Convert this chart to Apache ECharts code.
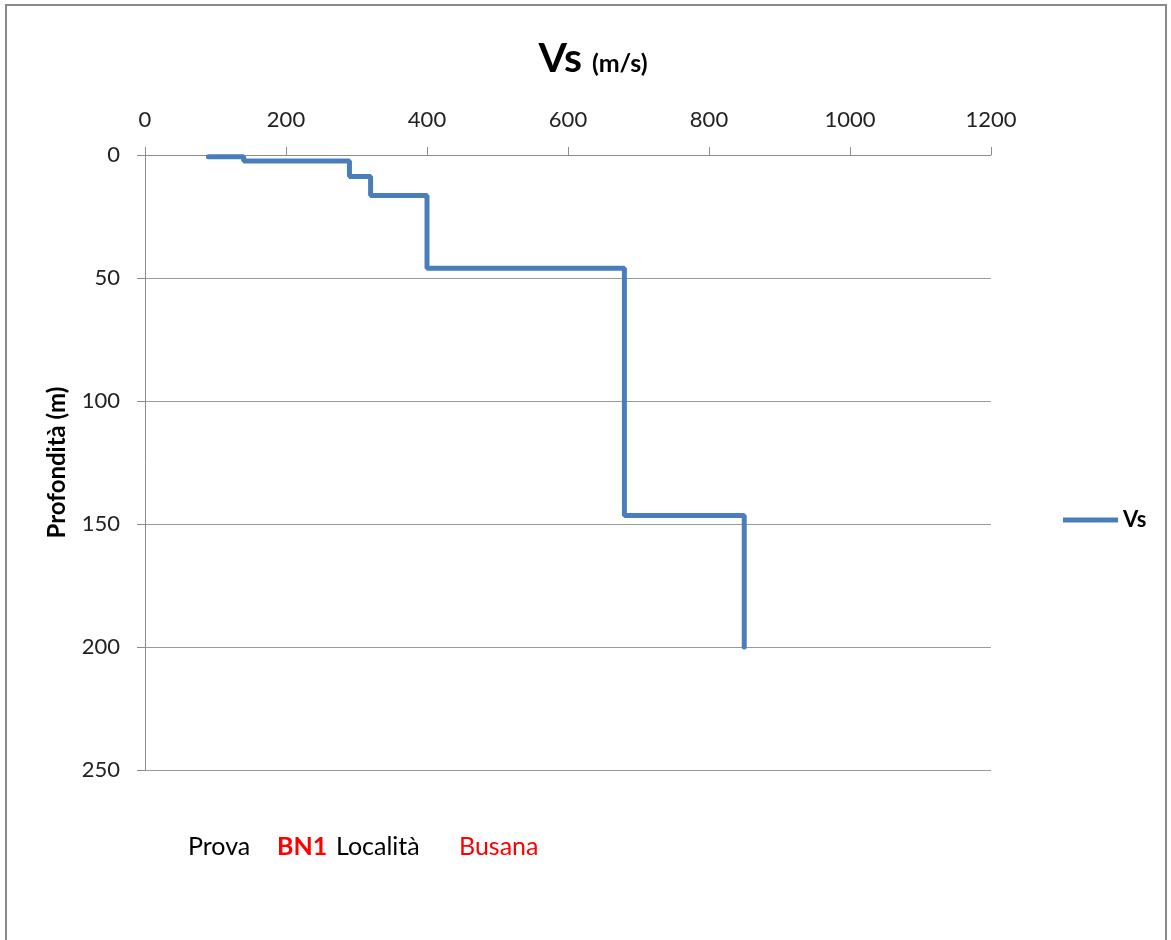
<!DOCTYPE html>
<html>
<head>
<meta charset="utf-8">
<script src="https://cdn.jsdelivr.net/npm/echarts@6/dist/echarts.min.js"></script>
<style>
  html, body { margin: 0; padding: 0; background: #fff; }
  #chart { width: 1171px; height: 940px; }
</style>
</head>
<body>
<div id="chart"></div>
<script>
// strati: velocita Vs (m/s) e profondita del fondo strato (m)
var vsLayers = [90, 140, 290, 320, 400, 680, 850];
var depthBottom = [0.7, 2.4, 8.7, 16.5, 46, 146.5, 200];
var xTicks = [0, 200, 400, 600, 800, 1000, 1200];
var yTicks = [0, 50, 100, 150, 200, 250];

(function() {
  'use strict';

  // costruzione della linea a gradini
  var stepData = [];
  var depthTop = depthBottom[0];
  for (var i = 0; i < vsLayers.length; i++) {
    stepData.push([vsLayers[i], depthTop]);
    stepData.push([vsLayers[i], depthBottom[i]]);
    depthTop = depthBottom[i];
  }

  var font = 'Lato, "Open Sans", sans-serif';
  var myChart = echarts.init(document.getElementById('chart'));

  function note(x, txt, color, bold) {
    return {
      type: 'text',
      x: x,
      y: 847,
      silent: true,
      style: {
        text: txt,
        fill: color,
        fontFamily: font,
        fontSize: 25,
        fontWeight: bold ? 'bold' : 'normal',
        verticalAlign: 'middle'
      }
    };
  }

  var option = {
    backgroundColor: '#fff',
    animation: false,
    title: {
      text: '{big|Vs}{small|(m/s)}',
      left: 588,
      top: 33,
      textAlign: 'center',
      textStyle: {
        rich: {
          big: { fontFamily: font, fontSize: 41, fontWeight: 'bold', color: '#000' },
          small: { fontFamily: font, fontSize: 25, fontWeight: 'bold', color: '#000', padding: [10, 0, 0, 10] }
        }
      }
    },
    legend: {
      data: [{ name: 'Vs', icon: 'rect' }],
      left: 1058,
      top: 504,
      itemWidth: 55,
      itemHeight: 5,
      textStyle: { fontFamily: font, fontSize: 22, fontWeight: 'bold', color: '#000' }
    },
    grid: { left: 145, right: 180, top: 155, bottom: 170, containLabel: false },
    xAxis: {
      type: 'value',
      position: 'top',
      min: xTicks[0],
      max: xTicks[xTicks.length - 1],
      interval: 200,
      axisLine: { show: true, lineStyle: { color: '#8c8c8c', width: 1 } },
      axisTick: { show: true, inside: false, length: 8, lineStyle: { color: '#8c8c8c' } },
      axisLabel: {
        fontFamily: font, fontSize: 22, color: '#222', margin: 24,
        formatter: function(v) { return String(v); }
      },
      splitLine: { show: false }
    },
    yAxis: {
      type: 'value',
      inverse: true,
      min: yTicks[0],
      max: yTicks[yTicks.length - 1],
      interval: 50,
      name: 'Profondità (m)',
      nameLocation: 'middle',
      nameGap: 76,
      nameTextStyle: { fontFamily: font, fontSize: 24, fontWeight: 'bold', color: '#000' },
      axisLine: { show: true, lineStyle: { color: '#8c8c8c', width: 1 } },
      axisTick: { show: true, inside: false, length: 8, lineStyle: { color: '#8c8c8c' } },
      axisLabel: {
        fontFamily: font, fontSize: 22, color: '#222', margin: 25,
        formatter: function(v) { return String(v); }
      },
      splitLine: { show: true, lineStyle: { color: '#9a9a9a', width: 1 } }
    },
    series: [{
      name: 'Vs',
      type: 'line',
      data: stepData,
      showSymbol: false,
      symbol: 'none',
      color: '#4a7ebb',
      lineStyle: { color: '#4a7ebb', width: 5, cap: 'round' }
    }],
    graphic: [
      {
        type: 'rect',
        silent: true,
        shape: { x: 6, y: 5, width: 1160, height: 945 },
        style: { fill: 'none', stroke: '#8a8a8a', lineWidth: 2 }
      },
      note(188, 'Prova', '#000', false),
      note(277, 'BN1', '#ff0000', true),
      note(336, 'Località', '#000', false),
      note(459, 'Busana', '#ff0000', false)
    ]
  };

  myChart.setOption(option);
}());
</script>
</body>
</html>
